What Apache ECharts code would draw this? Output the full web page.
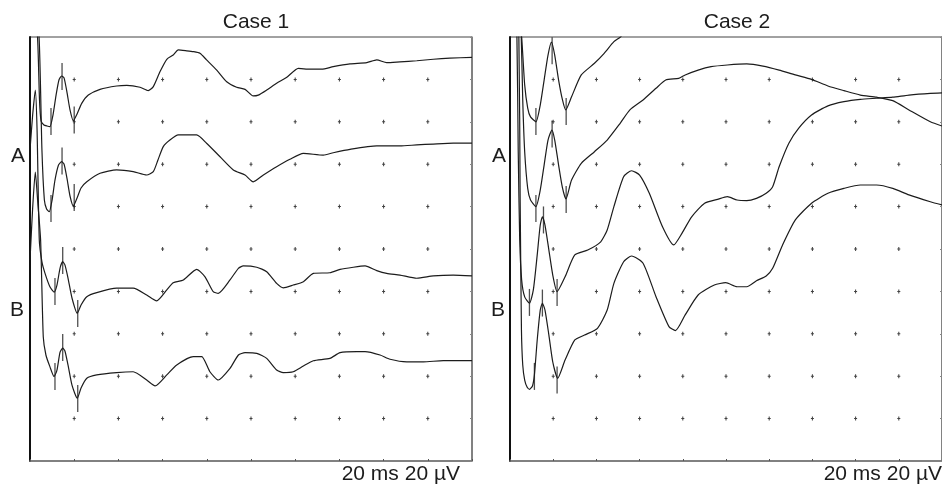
<!DOCTYPE html>
<html>
<head>
<meta charset="utf-8">
<script src="https://cdn.jsdelivr.net/npm/echarts@6/dist/echarts.min.js"></script>
<style>
  html, body { margin: 0; padding: 0; background: #fff; }
  #chart { width: 942px; height: 486px; }
</style>
</head>
<body>
<div id="chart"></div>
<script>
// time in ms (20 ms / div), amplitude in uV (20 uV / div)
const caseTitles = ["Case 1", "Case 2"];
const traceLabels = ["A", "B"];
const scaleText = "20 ms 20 \u00b5V";
const gridTicks = [20, 40, 60, 80, 100, 120, 140, 160, 180];

// Case 1, A (two repetitions)
const case1A1 = [
  [1.4, 217], [3.4, 200], [4.3, 170.3], [5.0, 160.4], [6.3, 158.5], [7.7, 158.0], [9.0, 157.7],
  [10.4, 163.2], [11.8, 172.6], [13.1, 179.7], [14.3, 181.6], [15.4, 180.7], [16.7, 174.1],
  [18.1, 165.6], [19.6, 160.5], [21.3, 163.7], [23.4, 168.7], [26.4, 172.6], [31.7, 175.3],
  [39.2, 176.9], [43.8, 177.2], [49.8, 176.3], [53.5, 174.7], [55.8, 176.6], [58.8, 183.6],
  [61.9, 189.5], [64.8, 191.5], [67.1, 193.9], [70.9, 193.5], [73.9, 193.1], [76.9, 192.3],
  [79.9, 189.2], [84.5, 184.4], [89.0, 178.9], [93.5, 176.3], [97.3, 175.3], [101.0, 172.2],
  [103.3, 172.6], [107.1, 175.0], [111.6, 178.2], [116.2, 181.0], [121.4, 185.2], [126.7, 184.8],
  [132.0, 184.8], [137.2, 186.0], [144.8, 187.3], [152.4, 187.9], [156.9, 189.2], [161.4, 187.9],
  [167.4, 188.3], [175.0, 188.8], [182.5, 189.5], [190.0, 190.0], [200, 190.4]
];
const case1A2 = [
  [1.8, 217.5], [4.1, 200], [5.4, 146.7], [6.5, 123.1], [7.5, 118.9], [8.7, 117.6], [10.0, 123.1],
  [11.3, 132.5], [12.9, 139.6], [14.3, 141.2], [15.4, 140.1], [16.7, 133.5], [18.1, 125.0],
  [19.6, 120.3], [21.3, 124.1], [23.1, 128.8], [25.7, 131.7], [31.7, 135.7], [39.2, 137.3],
  [46.7, 136.5], [52.8, 134.9], [55.8, 136.5], [57.9, 142.0], [60.3, 148.3], [63.3, 151.4],
  [67.1, 153.8], [75.4, 153.8], [79.9, 149.9], [86.0, 143.5], [92.0, 137.3], [97.3, 134.9],
  [101.0, 131.7], [105.6, 134.9], [111.6, 138.8], [117.6, 142.3], [123.7, 145.1], [132.7, 144.3],
  [137.2, 145.4], [144.8, 147.0], [156.9, 148.6], [167.4, 148.6], [175.0, 149.1], [182.5, 149.5],
  [191.5, 149.9], [200, 149.9]
];
// Case 1, B
const case1B1 = [
  [0, 146.7], [1.2, 163.2], [2.4, 175.0], [3.2, 156.1], [4.2, 104.2], [5.4, 93.9], [6.8, 88.5],
  [9.0, 82.2], [10.9, 79.7], [12.2, 83.0], [13.6, 91.0], [14.8, 94.0], [15.8, 92.5], [17.2, 86.3],
  [19.0, 76.9], [21.4, 69.7], [23.1, 73.6], [25.7, 77.5], [30.2, 79.4], [39.2, 81.5], [46.7, 81.5],
  [52.8, 78.3], [57.3, 75.5], [61.9, 80.7], [64.8, 84.1], [69.4, 85.4], [75.4, 90.4], [79.2, 86.9],
  [82.9, 79.9], [85.2, 79.1], [90.5, 85.4], [94.3, 90.9], [96.5, 92.0], [102.6, 91.4], [107.1, 89.3],
  [111.6, 83.8], [114.6, 81.7], [119.1, 83.0], [123.7, 84.6], [128.2, 88.5], [135.7, 88.8],
  [140.3, 90.4], [146.3, 91.4], [151.6, 92.0], [156.9, 89.8], [161.4, 88.5], [167.4, 87.7],
  [175.0, 86.2], [182.5, 87.3], [191.5, 87.7], [200, 87.3]
];
const case1B2 = [
  [0, 94.8], [1.2, 119.3], [2.4, 136.3], [3.6, 120.8], [4.8, 104.2], [6.0, 58.6], [7.2, 50.0],
  [9.0, 44.5], [10.9, 39.8], [12.2, 42.9], [13.6, 51.4], [14.8, 53.2], [15.8, 51.9], [17.2, 45.3],
  [19.0, 35.8], [21.4, 29.6], [23.1, 34.4], [25.7, 39.0], [30.2, 40.6], [39.2, 41.7], [46.7, 42.1],
  [52.8, 38.2], [56.6, 35.4], [61.9, 40.6], [66.4, 45.3], [73.9, 49.2], [77.7, 49.2], [81.4, 42.1],
  [85.2, 38.2], [90.5, 43.7], [94.3, 50.0], [97.3, 51.1], [102.6, 50.8], [107.1, 48.4], [111.6, 42.9],
  [114.6, 41.7], [119.1, 42.1], [123.7, 44.8], [128.2, 47.3], [135.7, 48.4], [140.3, 51.1],
  [147.8, 51.6], [151.6, 51.6], [158.4, 50.0], [162.9, 48.0], [170.5, 46.8], [178.0, 46.8],
  [187.0, 47.3], [200, 47.3]
];
// Case 2, A
const case2A1 = [
  [1.8, 264.6], [4.5, 208.0], [5.4, 200], [6.8, 177.4], [8.2, 166.5], [9.5, 162.3], [12.0, 160.0],
  [14.0, 167.9], [15.8, 179.7], [17.6, 191.5], [19.2, 197.6], [20.7, 191.5], [22.5, 179.7],
  [24.3, 170.3], [25.8, 165.6], [28.5, 171.8], [33.0, 182.1], [39.1, 187.6], [43.6, 192.3],
  [48.1, 197.8], [51.0, 199.9], [56.3, 205.7], [63.1, 212.7]
];
const case2A2 = [
  [2.3, 264.6], [5.0, 208.0], [5.9, 170.3], [6.8, 145.9], [8.2, 128.6], [9.5, 123.1], [12.0, 120.0],
  [14.0, 127.8], [15.8, 139.6], [17.6, 151.4], [19.4, 156.1], [20.7, 151.4], [22.5, 139.6],
  [24.3, 128.8], [25.9, 123.6], [28.5, 132.5], [33.0, 140.4], [39.1, 145.9], [45.0, 151.4],
  [51.0, 159.3], [55.5, 165.6], [61.6, 170.3], [67.6, 175.8], [72.1, 179.7], [78.1, 180.5],
  [81.1, 182.1], [87.1, 184.4], [93.1, 186.0], [100.6, 186.8], [109.6, 187.3], [117.1, 186.3],
  [124.6, 184.4], [132.1, 182.1], [139.6, 180.0], [147.2, 176.9], [154.6, 174.7], [162.2, 172.6],
  [169.7, 171.6], [177.2, 170.0], [184.7, 165.6], [194.6, 160.0], [200, 158.0]
];
// Case 2, B
const case2B1 = [
  [0.9, 264.6], [3.2, 200], [3.8, 146.7], [4.5, 104.2], [5.4, 85.4], [6.8, 77.4], [9.0, 74.4],
  [10.8, 80.7], [12.6, 97.2], [14.0, 111.3], [15.0, 115.2], [16.2, 111.3], [18.0, 99.5],
  [19.8, 87.7], [21.8, 79.9], [25.5, 86.9], [30.0, 97.2], [36.0, 99.5], [42.0, 103.4], [45.0, 109.0],
  [48.1, 120.0], [52.6, 134.1], [56.3, 136.9], [60.0, 134.9], [64.5, 126.3], [70.6, 110.5],
  [75.8, 101.9], [79.6, 107.4], [84.1, 115.2], [90.1, 121.6], [96.1, 123.4], [100.6, 124.7],
  [105.1, 123.1], [109.6, 122.8], [114.1, 123.9], [118.6, 126.3], [121.6, 129.4], [124.6, 138.8],
  [129.1, 149.9], [133.6, 156.9], [139.6, 163.2], [147.2, 167.5], [154.6, 169.5], [162.2, 170.6],
  [169.7, 171.1], [177.2, 171.6], [184.7, 172.6], [194.6, 173.4], [200, 173.6]
];
const case2B2 = [
  [1.4, 264.6], [4.1, 200], [4.7, 123.1], [5.3, 61.8], [5.9, 45.3], [6.8, 38.2], [7.9, 34.9],
  [9.0, 33.8], [10.4, 35.4], [11.3, 40.6], [12.6, 57.1], [14.0, 71.2], [15.0, 74.4], [16.2, 71.2],
  [18.0, 59.4], [19.8, 46.7], [22.1, 39.0], [25.5, 47.6], [30.0, 57.1], [34.5, 59.4], [40.5, 62.6],
  [45.0, 71.2], [48.1, 83.8], [52.6, 94.0], [56.3, 96.7], [61.6, 93.3], [67.6, 77.5], [73.6, 63.4],
  [76.6, 61.5], [81.1, 68.9], [87.1, 78.3], [94.6, 83.0], [99.9, 84.1], [105.1, 82.2], [109.6, 82.2],
  [114.1, 85.0], [118.6, 87.3], [121.6, 90.9], [126.1, 101.7], [132.1, 113.7], [139.6, 121.6],
  [147.2, 126.3], [154.6, 128.6], [162.2, 130.2], [169.7, 130.2], [177.2, 128.6], [184.7, 125.5],
  [194.6, 122.3], [200, 120.8]
];

// latency cursors (centre of each short vertical mark)
const case1Marks = [
  [9.5, 160.1], [14.5, 181.4], [20.0, 160.8],
  [9.5, 119.1], [14.5, 141.5], [20.0, 124.3],
  [11.3, 80.0], [14.8, 94.6], [21.6, 69.6],
  [11.3, 39.9], [14.8, 53.5], [21.6, 29.5]
];
const case2Marks = [
  [12.0, 160.1], [19.5, 193.5], [26.0, 164.8],
  [12.0, 119.1], [19.5, 154.2], [26.0, 123.3],
  [9.0, 74.8], [15.5, 113.7], [21.8, 79.5],
  [11.3, 39.9], [15.0, 74.5], [21.8, 38.2]
];

const dots = [];
gridTicks.forEach(x => gridTicks.forEach(y => dots.push([x, y])));

const FONT = "Liberation Sans, Arial, sans-serif";
const INK = "#1c1c1c";

const chart = echarts.init(document.getElementById("chart"));

const grids = [
  { left: 30, top: 37, width: 442, height: 424 },
  { left: 510, top: 37, width: 444, height: 424 }
];

const xAxes = [], yAxes = [];
grids.forEach((g, i) => {
  xAxes.push({
    gridIndex: i, type: "value", min: 0, max: 200, interval: 20,
    axisLine: { show: true, lineStyle: { color: "#777", width: 1.5 } },
    axisTick: { show: true, inside: true, length: 2, lineStyle: { color: "#555" } },
    axisLabel: { show: false }, splitLine: { show: false }
  });
  yAxes.push({
    gridIndex: i, type: "value", min: 0, max: 200, interval: 20,
    axisLine: { show: true, lineStyle: { color: "#111", width: 2 } },
    axisTick: { show: false }, axisLabel: { show: false }, splitLine: { show: false }
  });
  yAxes.push({
    gridIndex: i, type: "value", position: "right", min: 0, max: 200, interval: 20,
    axisLine: { show: true, lineStyle: { color: "#777", width: 1.5 } },
    axisTick: { show: true, inside: true, length: 2, lineStyle: { color: "#888" } },
    axisLabel: { show: false }, splitLine: { show: false }
  });
});

const trace = (data, i) => ({
  type: "line", data: data, xAxisIndex: i, yAxisIndex: i * 2,
  showSymbol: false, smooth: 0.2, clip: true, silent: true,
  lineStyle: { color: INK, width: 1.2 }
});
const marks = (data, i) => ({
  type: "scatter", data: data, xAxisIndex: i, yAxisIndex: i * 2,
  symbol: "rect", symbolSize: [1.3, 27], silent: true,
  itemStyle: { color: "#222" }
});
const dotSeries = i => ({
  type: "scatter", data: dots, xAxisIndex: i, yAxisIndex: i * 2,
  symbol: "path://M1,0h1v4h-1z M0,1.5h3v1h-3z", symbolSize: [3, 4], silent: true,
  itemStyle: { color: "#111" }
});

const label = (text, x, y) => ({
  type: "text", left: x, top: y,
  style: { text: text, font: "21px " + FONT, fill: INK }
});

chart.setOption({
  animation: false,
  backgroundColor: "#fff",
  title: [
    { text: caseTitles[0], left: 251, top: 7, textAlign: "center",
      textStyle: { fontFamily: FONT, fontSize: 21, fontWeight: "normal", color: INK } },
    { text: caseTitles[1], left: 732, top: 7, textAlign: "center",
      textStyle: { fontFamily: FONT, fontSize: 21, fontWeight: "normal", color: INK } }
  ],
  grid: grids.map(g => Object.assign({ show: true, borderColor: "#444", borderWidth: 1 }, g)),
  xAxis: xAxes,
  yAxis: yAxes,
  graphic: [
    label(traceLabels[0], 11, 146),
    label(traceLabels[1], 10, 300),
    label(traceLabels[0], 492, 146),
    label(traceLabels[1], 491, 300),
    { type: "text", right: 482, top: 464,
      style: { text: scaleText, font: "21px " + FONT, fill: INK } },
    { type: "text", right: 0, top: 464,
      style: { text: scaleText, font: "21px " + FONT, fill: INK } }
  ],
  series: [
    dotSeries(0), dotSeries(1),
    trace(case1A1, 0), trace(case1A2, 0), trace(case1B1, 0), trace(case1B2, 0),
    trace(case2A1, 1), trace(case2A2, 1), trace(case2B1, 1), trace(case2B2, 1),
    marks(case1Marks, 0), marks(case2Marks, 1)
  ]
});
</script>
</body>
</html>
